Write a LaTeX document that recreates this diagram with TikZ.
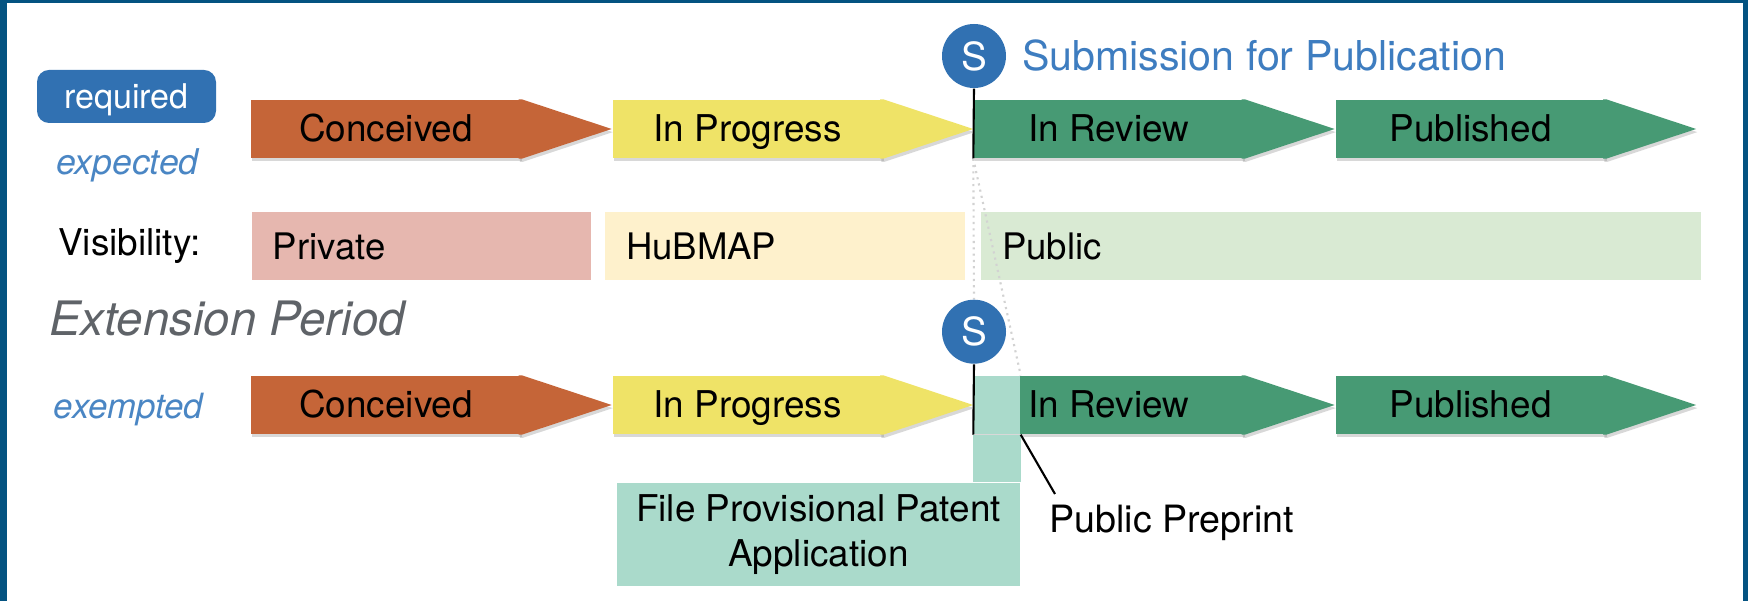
\documentclass[tikz,border=0pt]{standalone}
\usepackage{fontspec}
\setmainfont{TeX Gyre Heros}
\usepackage{tikz}
\usetikzlibrary{positioning, shadows}
\usepackage{xcolor}
\definecolor{frame}{HTML}{045381}
\definecolor{reqblue}{HTML}{3171B2}
\definecolor{subblue}{HTML}{3E7DC0}
\definecolor{expblue}{HTML}{4A86C4}
\definecolor{conceived}{HTML}{C56538}
\definecolor{progress}{HTML}{EFE367}
\definecolor{review}{HTML}{479A74}
\definecolor{private}{HTML}{E6B7AF}
\definecolor{hubmap}{HTML}{FEF1CC}
\definecolor{public}{HTML}{D9EAD3}
\definecolor{filing}{HTML}{AADACB}
\definecolor{extgray}{HTML}{5F6368}
\tikzset{
    shade/.style = {drop shadow={shadow xshift=0.3pt, shadow yshift=-0.9pt, opacity=0.3}},
    stage/.style = {rectangle, minimum width=2.7cm, minimum height=0.58cm, inner sep=0pt, text height=0.72em, text depth=0pt, font=\fontsize{10.5}{12}\selectfont, shade},
    vis/.style = {rectangle, minimum height=0.68cm, inner xsep=0.21cm, inner ysep=0pt, align=left, font=\fontsize{10.4}{12}\selectfont},
    sub/.style = {circle, fill=reqblue, minimum size=0.64cm, inner sep=0pt, text=white, font=\fontsize{11}{13}\selectfont},
    conn/.style = {line width=0.6pt, black},
    guide/.style = {line width=0.6pt, gray!35, dash pattern=on 0.6pt off 1.2pt}
}

\begin{document}
\begin{tikzpicture}
% frame
\fill[frame] (0,0) rectangle (17.48,-6.01);
\fill[white] (0.073,-0.033) rectangle (17.43,-6.01);
\useasboundingbox (0,0) rectangle (17.48,-6.01);

% left labels
\node[rectangle, rounded corners=0.12cm, fill=reqblue, text=white, minimum width=1.79cm, minimum height=0.53cm, text depth=0pt, font=\fontsize{9.7}{11}\selectfont] (req) at (1.265,-0.965) {required};
\node[text=expblue, font=\fontsize{10.1}{12}\selectfont\itshape] (expd) at (1.275,-1.65) {expected};
\node[font=\fontsize{10.5}{12}\selectfont] (visib) at (1.295,-2.465) {Visibility:};
\node[text=extgray, font=\fontsize{13.5}{15}\selectfont\itshape] (ext) at (2.27,-3.19) {Extension Period};
\node[text=expblue, font=\fontsize{9.9}{12}\selectfont\itshape] (exem) at (1.285,-4.10) {exempted};

% top row
\node[stage, fill=conceived] (con1) at (3.86,-1.29) {Conceived};
\fill[conceived, shade] ([xshift=-0.03cm]con1.north east) -- (con1.north east) -- ([xshift=0.9cm]con1.east) -- (con1.south east) -- ([xshift=-0.03cm]con1.south east) -- cycle;
\node[stage, fill=progress] (prog1) at (7.475,-1.29) {In Progress};
\fill[progress, shade] ([xshift=-0.03cm]prog1.north east) -- (prog1.north east) -- ([xshift=0.9cm]prog1.east) -- (prog1.south east) -- ([xshift=-0.03cm]prog1.south east) -- cycle;
\node[stage, fill=review] (rev1) at (11.09,-1.29) {In Review};
\fill[review, shade] ([xshift=-0.03cm]rev1.north east) -- (rev1.north east) -- ([xshift=0.9cm]rev1.east) -- (rev1.south east) -- ([xshift=-0.03cm]rev1.south east) -- cycle;
\node[stage, fill=review] (pub1) at (14.705,-1.29) {Published};
\fill[review, shade] ([xshift=-0.03cm]pub1.north east) -- (pub1.north east) -- ([xshift=0.9cm]pub1.east) -- (pub1.south east) -- ([xshift=-0.03cm]pub1.south east) -- cycle;

\node[sub] (s1) at (9.74,-0.56) {S};
\node[right=0.03cm of s1, text=subblue, font=\fontsize{11.7}{14}\selectfont] (subm) {Submission for Publication};
\draw[conn] (s1.south) -- (rev1.south west);

% visibility
\node[vis, fill=private, text width=2.97cm] (priv) at (4.214,-2.46) {Private};
\node[vis, fill=hubmap, text width=3.18cm] (hub) at (7.85,-2.46) {HuBMAP};
\node[vis, fill=public, text width=6.78cm] (pub) at (13.41,-2.46) {Public};

% bottom row
\node[stage, fill=conceived] (con2) at (3.86,-4.05) {Conceived};
\fill[conceived, shade] ([xshift=-0.03cm]con2.north east) -- (con2.north east) -- ([xshift=0.9cm]con2.east) -- (con2.south east) -- ([xshift=-0.03cm]con2.south east) -- cycle;
\node[stage, fill=progress] (prog2) at (7.475,-4.05) {In Progress};
\fill[progress, shade] ([xshift=-0.03cm]prog2.north east) -- (prog2.north east) -- ([xshift=0.9cm]prog2.east) -- (prog2.south east) -- ([xshift=-0.03cm]prog2.south east) -- cycle;
\node[stage, fill=review] (rev2) at (11.09,-4.05) {In Review};
\fill[review, shade] ([xshift=-0.03cm]rev2.north east) -- (rev2.north east) -- ([xshift=0.9cm]rev2.east) -- (rev2.south east) -- ([xshift=-0.03cm]rev2.south east) -- cycle;
\node[stage, fill=review] (pub2) at (14.705,-4.05) {Published};
\fill[review, shade] ([xshift=-0.03cm]pub2.north east) -- (pub2.north east) -- ([xshift=0.9cm]pub2.east) -- (pub2.south east) -- ([xshift=-0.03cm]pub2.south east) -- cycle;

\node[rectangle, fill=filing, minimum width=0.46cm, minimum height=0.58cm, inner sep=0pt] (pre) at (9.97,-4.05) {};
\node[rectangle, fill=filing, minimum width=4.03cm, minimum height=1.03cm, align=center, font=\fontsize{10.5}{12.8}\selectfont] (patent) at (8.185,-5.345) {File Provisional Patent\\Application};
\fill[filing] (pre.south west) rectangle (patent.north east);

\node[sub] (s2) at (9.74,-3.317) {S};
\draw[conn] (s2.south) -- (pre.south west);

\node[inner sep=0.1cm, anchor=north west, font=\fontsize{10.7}{12}\selectfont] (ppr) at (10.39,-4.94) {Public Preprint};
\draw[conn] (pre.south east) -- ([xshift=0.16cm]ppr.north west);

% guides between the two rows
\draw[guide] (rev1.south west) -- (s2.north);
\draw[guide] (rev1.south west) -- (pre.north east);

\end{tikzpicture}
\end{document}
